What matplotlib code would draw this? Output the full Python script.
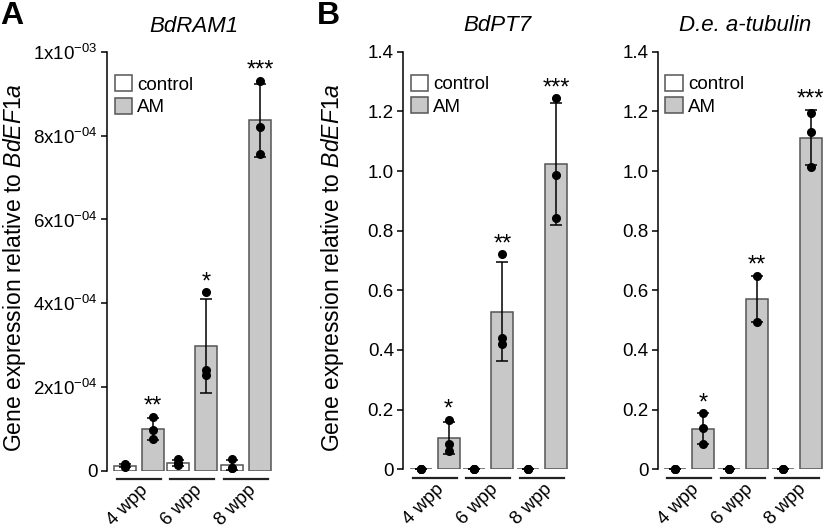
import matplotlib.pyplot as plt
import matplotlib.transforms as mtransforms
from matplotlib.patches import Patch

plt.rcParams['font.family'] = ['Liberation Sans', 'DejaVu Sans']
plt.rcParams['mathtext.fontset'] = 'custom'
plt.rcParams['mathtext.rm'] = 'Liberation Sans'
plt.rcParams['mathtext.it'] = 'Liberation Sans:italic'

# Grups de temps (setmanes post plantacio)
grups = ['4 wpp', '6 wpp', '8 wpp']

# BdRAM1
ram_ctrl = [1.2e-5, 1.9e-5, 1.3e-5]
ram_ctrl_err = [0.3e-5, 0.7e-5, 1.2e-5]
ram_ctrl_punts = [[1.5e-5, 1.1e-5, 0.9e-5], [2.7e-5, 1.9e-5, 1.3e-5], [2.7e-5, 0.7e-5, 0.6e-5]]
ram_am = [1.0e-4, 2.98e-4, 8.37e-4]
ram_am_err = [0.265e-4, 1.12e-4, 0.87e-4]
ram_am_punts = [[1.29e-4, 0.97e-4, 0.76e-4], [4.26e-4, 2.40e-4, 2.28e-4], [9.31e-4, 8.21e-4, 7.57e-4]]
ram_estrelles = ['**', '*', '***']
ram_ticks = [0, 2e-4, 4e-4, 6e-4, 8e-4, 1e-3]
ram_ticklabels = ['0', r'2x10$^{-04}$', r'4x10$^{-04}$', r'6x10$^{-04}$', r'8x10$^{-04}$', r'1x10$^{-03}$']

# BdPT7
pt7_ctrl = [0.002, 0.002, 0.002]
pt7_ctrl_err = [0.0, 0.0, 0.0]
pt7_ctrl_punts = [[0.002, 0.002, 0.002], [0.002, 0.002, 0.002], [0.002, 0.002, 0.002]]
pt7_am = [0.104, 0.528, 1.024]
pt7_am_err = [0.053, 0.166, 0.204]
pt7_am_punts = [[0.165, 0.084, 0.062], [0.721, 0.441, 0.420], [1.244, 0.987, 0.841]]
pt7_estrelles = ['*', '**', '***']

# D.e. a-tubulin
tub_ctrl = [0.002, 0.002, 0.002]
tub_ctrl_err = [0.0, 0.0, 0.0]
tub_ctrl_punts = [[0.002, 0.002, 0.002], [0.002, 0.002, 0.002], [0.002, 0.002, 0.002]]
tub_am = [0.136, 0.572, 1.112]
tub_am_err = [0.052, 0.077, 0.092]
tub_am_punts = [[0.188, 0.137, 0.084], [0.649, 0.495], [1.193, 1.132, 1.012]]
tub_estrelles = ['*', '**', '***']

dec_ticks = [0, 0.2, 0.4, 0.6, 0.8, 1.0, 1.2, 1.4]
dec_ticklabels = ['0', '0.2', '0.4', '0.6', '0.8', '1.0', '1.2', '1.4']

gris = '#c8c8c8'
vora = '#555555'


def panell(ax, titol, titol_x, ctrl, ctrl_err, ctrl_punts, am, am_err, am_punts,
           estrelles, ticks, ticklabels, ymax):
    x = list(range(len(grups)))
    xc = [i - 0.26 for i in x]
    xa = [i + 0.26 for i in x]

    ax.bar(xc, ctrl, width=0.41, color='white', edgecolor=vora, linewidth=1.1, zorder=2)
    ax.bar(xa, am, width=0.41, color=gris, edgecolor=vora, linewidth=1.1, zorder=2)
    ax.errorbar(xc, ctrl, yerr=ctrl_err, fmt='none', ecolor='black', elinewidth=1.1,
                capsize=4.5, capthick=1.1, zorder=3, clip_on=False)
    ax.errorbar(xa, am, yerr=am_err, fmt='none', ecolor='black', elinewidth=1.1,
                capsize=4.5, capthick=1.1, zorder=3, clip_on=False)

    for i in x:
        ax.plot([xc[i]] * len(ctrl_punts[i]), ctrl_punts[i], 'o', color='black',
                markersize=5.5, zorder=4, clip_on=False)
        ax.plot([xa[i]] * len(am_punts[i]), am_punts[i], 'o', color='black',
                markersize=5.5, zorder=4, clip_on=False)
        dalt = max(max(am_punts[i]), am[i] + am_err[i])
        ax.annotate(estrelles[i], (xa[i], dalt), xytext=(0, 3), textcoords='offset points',
                    ha='center', va='baseline', fontsize=17)
        # linia sota cada grup
        ax.plot([i - 0.41, i + 0.41], [-0.021, -0.021], color='#222222', linewidth=1.6,
                transform=ax.get_xaxis_transform(), clip_on=False)

    ax.set_xlim(-0.59, 2.54)
    ax.set_ylim(0, ymax)
    ax.set_yticks(ticks)
    ax.set_yticklabels(ticklabels)
    ax.tick_params(axis='y', labelsize=13.5, length=4.5, width=1.1, pad=2)

    ax.set_xticks(x)
    ax.set_xticklabels(grups, rotation=45, ha='right', va='top', rotation_mode='anchor',
                       fontsize=13.5)
    ax.tick_params(axis='x', length=0, pad=8)
    desp = mtransforms.ScaledTranslation(0.01, 0, ax.figure.dpi_scale_trans)
    for t in ax.get_xticklabels():
        t.set_transform(t.get_transform() + desp)

    for s in ['top', 'right', 'bottom']:
        ax.spines[s].set_visible(False)
    ax.spines['left'].set_linewidth(1.1)

    ax.text(titol_x, 1.0 + 26 / 419, titol, transform=ax.transAxes, ha='center',
            va='center', fontsize=16, style='italic')

    mans = [Patch(facecolor='white', edgecolor=vora, linewidth=1.1),
            Patch(facecolor=gris, edgecolor=vora, linewidth=1.1)]
    ax.legend(mans, ['control', 'AM'], loc='upper left', bbox_to_anchor=(0.045, 0.945),
              frameon=False, fontsize=13.5, handlelength=0.95, handleheight=0.95,
              handletextpad=0.25, labelspacing=0.22, borderpad=0, borderaxespad=0)


fig = plt.figure(figsize=(8.26, 5.28), dpi=100)
axA = fig.add_axes([107 / 826, 57.3 / 528, 168 / 826, 418.7 / 528])
axB = fig.add_axes([403 / 826, 58.7 / 528, 168 / 826, 417.6 / 528])
axC = fig.add_axes([657.7 / 826, 58.7 / 528, 168 / 826, 417.6 / 528])

panell(axA, 'BdRAM1', 0.52, ram_ctrl, ram_ctrl_err, ram_ctrl_punts, ram_am, ram_am_err,
       ram_am_punts, ram_estrelles, ram_ticks, ram_ticklabels, 1e-3)
panell(axB, 'BdPT7', 0.56, pt7_ctrl, pt7_ctrl_err, pt7_ctrl_punts, pt7_am, pt7_am_err,
       pt7_am_punts, pt7_estrelles, dec_ticks, dec_ticklabels, 1.4)
panell(axC, 'D.e. a-tubulin', 0.52, tub_ctrl, tub_ctrl_err, tub_ctrl_punts, tub_am, tub_am_err,
       tub_am_punts, tub_estrelles, dec_ticks, dec_ticklabels, 1.4)

etiqueta = r'Gene expression relative to $\mathit{BdEF1a}$'
fig.text(15 / 826, 1 - 268 / 528, etiqueta, rotation=90, ha='center', va='center', fontsize=16.5)
fig.text(333 / 826, 1 - 268 / 528, etiqueta, rotation=90, ha='center', va='center', fontsize=16.5)

fig.text(0 / 826, 1 - 16 / 528, 'A', ha='left', va='center', fontsize=23, fontweight='bold')
fig.text(317 / 826, 1 - 16 / 528, 'B', ha='left', va='center', fontsize=23, fontweight='bold')

fig.savefig('out.png', dpi=100)
